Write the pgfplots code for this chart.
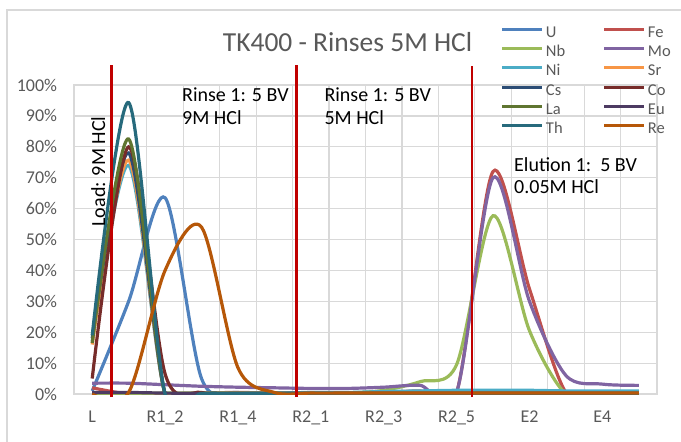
\documentclass[border=0pt]{standalone}
\usepackage{fontspec}
\setmainfont{Carlito}
\usepackage{pgfplots}
\usepackage{pgfplotstable}
\pgfplotsset{compat=1.18}

\definecolor{cU}{HTML}{4F81BD}
\definecolor{cFe}{HTML}{C0504D}
\definecolor{cNb}{HTML}{9BBB59}
\definecolor{cMo}{HTML}{8064A2}
\definecolor{cNi}{HTML}{4BACC6}
\definecolor{cSr}{HTML}{F79646}
\definecolor{cCs}{HTML}{2C4D75}
\definecolor{cCo}{HTML}{772C2A}
\definecolor{cLa}{HTML}{5F7530}
\definecolor{cEu}{HTML}{4D3B62}
\definecolor{cTh}{HTML}{276A7C}
\definecolor{cRe}{HTML}{B65708}
\definecolor{gridgray}{HTML}{D9D9D9}
\definecolor{txtgray}{HTML}{595959}
\definecolor{marker}{HTML}{C00000}

\newcommand\legfont{\fontsize{16.5}{18}\selectfont}

% fraction of each element (%) per sample: L, R1_1..R1_5, R2_1..R2_5, E1..E5
\pgfplotstableread{
x  U     Fe    Nb    Mo    Ni    Sr    Cs    Co    La    Eu    Th    Re
0  1     2     0     3.5   17    16    18    5     16.5  0.5   19    0
1  30    0     0.2   3.5   74    75.7  78    80    82.5  0.5   94.3  0.5
2  63.5  0     0.3   3     0     0     0     6.5   0     0.3   0     40
3  5     0.3   0.3   2.5   0.2   0.2   0.2   0.5   0.2   0.2   0.2   54
4  0.5   0.5   0.3   2.2   0.2   0.2   0.2   0.2   0.2   0.2   0.2   8.5
5  0.3   0.3   0.3   2     0.3   0.2   0.2   0.2   0.2   0.2   0.2   0.5
6  0.2   0.3   0.3   1.8   0.5   0.2   0.2   0.2   0.2   0.2   0.2   0.3
7  0.2   0.3   0.3   1.8   0.5   0.2   0.2   0.2   0.2   0.2   0.2   0.3
8  0.2   0.5   1.2   2.2   0.8   0.2   0.2   0.2   0.2   0.2   0.2   0.3
9  0.2   1     4     2.8   1     0.2   0.2   0.2   0.2   0.2   0.2   0.3
10 0.2   0.5   9.5   0.5   1.2   0.2   0.2   0.2   0.2   0.2   0.2   0.3
11 0.3   72    57.7  70    1.2   0.2   0.2   0.2   0.2   0.2   0.2   0.3
12 0.3   34    20.5  30    1.2   0.2   0.2   0.2   0.2   0.2   0.2   0.3
13 0.3   0.5   0     6     1     0.2   0.2   0.2   0.2   0.2   0.2   0.3
14 0.3   0.3   0.2   3.2   1     0.2   0.2   0.2   0.2   0.2   0.2   0.3
15 0.3   0.3   0.2   2.8   1     0.2   0.2   0.2   0.2   0.2   0.2   0.3
}\rinses

\begin{document}
\begin{tikzpicture}
\useasboundingbox (0,0) rectangle (681pt,-442pt);
\draw[gridgray, line width=1.3pt] (7pt,-442pt) -- (7pt,-10pt) -- (681pt,-10pt);

\begin{axis}[
    at={(74pt,-394pt)}, anchor=south west,
    width=583pt, height=309pt, scale only axis,
    xmin=-0.5, xmax=15.5, ymin=0, ymax=100,
    xtick={0,2,...,14},
    xticklabels={L,R1\_2,R1\_4,R2\_1,R2\_3,R2\_5,E2,E4},
    minor xtick={0.5,1.5,...,14.5},
    ytick={0,10,...,100},
    yticklabel={\pgfmathprintnumber{\tick}\%},
    /pgf/number format/assume math mode=true,
    xminorgrids, ymajorgrids,
    grid style={gridgray, line width=1.2pt},
    minor grid style={gridgray, line width=1.2pt},
    major tick length=0pt, minor tick length=0pt,
    axis line style={gridgray, line width=1.2pt},
    tick label style={font=\fontsize{18}{20}\selectfont, text=txtgray, inner sep=0pt},
    yticklabel style={anchor=east, xshift=-16.7pt},
    xticklabel style={anchor=north, yshift=-16.7pt},
    clip mode=individual,
    every axis plot/.append style={smooth, line width=3.2pt, no markers},
    legend columns=2,
    legend cell align=left,
    legend image code/.code={\draw[#1, line width=3pt] (0pt,4pt) -- (40pt,4pt);},
    legend style={draw=none, fill=none, inner sep=0pt, outer sep=0pt,
        at={(axis description cs:0.7324,1.190)}, anchor=north west,
        row sep=5.3pt,
        nodes={inner sep=0pt, text=txtgray, text width=50pt, text height=11pt, text depth=3pt},
        /tikz/every odd column/.style={column sep=2pt},
        /tikz/every even column/.style={column sep=7pt}},
]
\addplot[cU]  table[x=x, y=U]  {\rinses}; \addlegendentry{\legfont U}
\addplot[cFe] table[x=x, y=Fe] {\rinses}; \addlegendentry{\legfont Fe}
\addplot[cNb] table[x=x, y=Nb] {\rinses}; \addlegendentry{\legfont Nb}
\addplot[cMo] table[x=x, y=Mo] {\rinses}; \addlegendentry{\legfont Mo}
\addplot[cNi] table[x=x, y=Ni] {\rinses}; \addlegendentry{\legfont Ni}
\addplot[cSr] table[x=x, y=Sr] {\rinses}; \addlegendentry{\legfont Sr}
\addplot[cCs] table[x=x, y=Cs] {\rinses}; \addlegendentry{\legfont Cs}
\addplot[cCo] table[x=x, y=Co] {\rinses}; \addlegendentry{\legfont Co}
\addplot[cLa] table[x=x, y=La] {\rinses}; \addlegendentry{\legfont La}
\addplot[cEu] table[x=x, y=Eu] {\rinses}; \addlegendentry{\legfont Eu}
\addplot[cTh] table[x=x, y=Th] {\rinses}; \addlegendentry{\legfont Th}
\addplot[cRe] table[x=x, y=Re] {\rinses}; \addlegendentry{\legfont Re}

% phase boundaries
\draw[marker, line width=2.5pt] (axis cs:0.535,-1) -- (axis cs:0.535,106.5);
\draw[marker, line width=2.5pt] (axis cs:5.606,-1) -- (axis cs:5.606,106.5);
\draw[marker, line width=2.5pt] (axis cs:10.42,-1) -- (axis cs:10.42,106);
\end{axis}

\node[anchor=base, inner sep=0pt, text=txtgray, font=\fontsize{27.5}{32}\selectfont]
    at (347.5pt,-51.7pt) {TK400 - Rinses 5M HCl};

\begin{scope}[every node/.style={anchor=base west, inner sep=0pt, font=\fontsize{20}{24}\selectfont}]
\node at (182pt,-101.7pt) {Rinse 1: 5 BV};
\node at (182pt,-124pt) {9M HCl};
\node at (324.3pt,-101.7pt) {Rinse 1: 5 BV};
\node at (324.3pt,-124pt) {5M HCl};
\node at (514pt,-171.7pt) {Elution 1:\ \ 5 BV};
\node at (514pt,-193.3pt) {0.05M HCl};
\node[rotate=90] at (105pt,-226.7pt) {Load: 9M HCl};
\end{scope}
\end{tikzpicture}
\end{document}
